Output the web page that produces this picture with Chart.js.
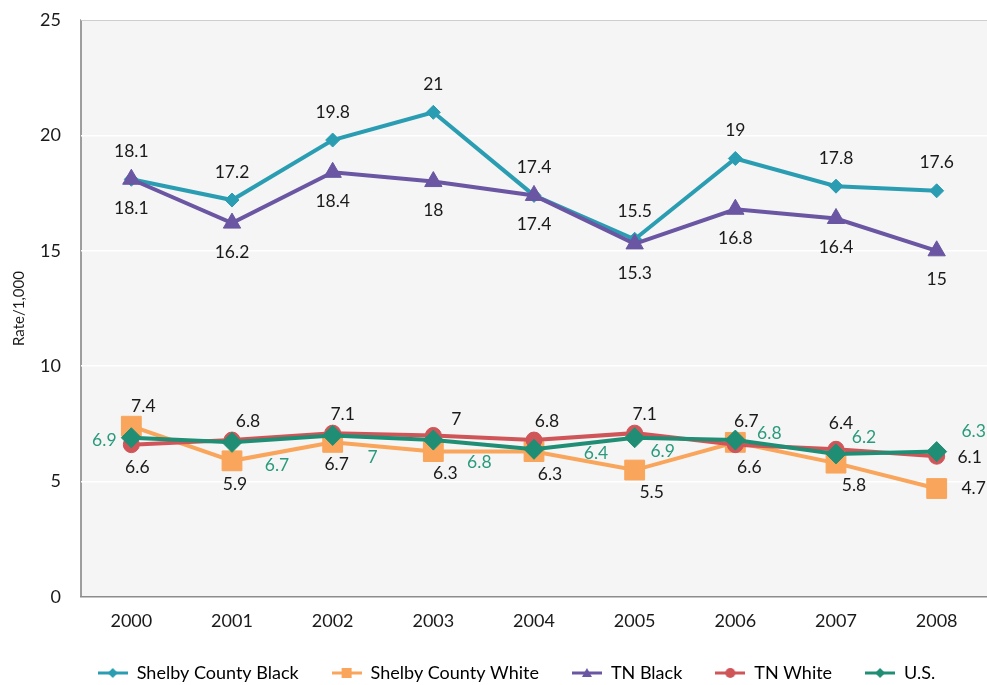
<!DOCTYPE html>
<html>
<head>
<meta charset="utf-8">
<script src="https://cdn.jsdelivr.net/npm/chart.js@4"></script>
<style>
  html, body { margin: 0; padding: 0; background: #ffffff; }
  #wrap { width: 987px; height: 685px; }
</style>
</head>
<body>
<div id="wrap"><canvas id="myChart" width="987" height="685"></canvas></div>
<script>
// data
const years = ["2000", "2001", "2002", "2003", "2004", "2005", "2006", "2007", "2008"];
const shelbyBlack = [18.1, 17.2, 19.8, 21, 17.4, 15.5, 19, 17.8, 17.6];
const shelbyWhite = [7.4, 5.9, 6.7, 6.3, 6.3, 5.5, 6.7, 5.8, 4.7];
const tnBlack = [18.1, 16.2, 18.4, 18, 17.4, 15.3, 16.8, 16.4, 15];
const tnWhite = [6.6, 6.8, 7.1, 7, 6.8, 7.1, 6.6, 6.4, 6.1];
const us = [6.9, 6.7, 7, 6.8, 6.4, 6.9, 6.8, 6.2, 6.3];
const yTicks = [0, 5, 10, 15, 20, 25];

const FONT = "Lato, 'DejaVu Sans', sans-serif";

// where each value label sits relative to its point (dx, dy in px)
const labelOffsets = [
  years.map(() => [0, -28]),
  [[12, -20], [3, 24], [4, 22], [12, 22], [16, 23], [17, 22], [11, -21], [18, 22], [37, 0]],
  years.map(() => [0, 29]),
  [[6, 23], [16, -19], [10, -19], [23, -16], [13, -19], [10, -19], [14, 23], [5, -26], [33, 1]],
  [[-27, 3], [45, 23], [40, 22], [46, 22], [62, 4], [28, 14], [34, -7], [28, -17], [37, -20]],
];
const labelColors = ["#1a1a1a", "#1a1a1a", "#1a1a1a", "#1a1a1a", "#2a9a7c"];

function legendIcon(color, style, size) {
  const c = document.createElement("canvas");
  c.width = 30; c.height = 18;
  const g = c.getContext("2d");
  g.strokeStyle = color; g.lineWidth = 3;
  g.beginPath(); g.moveTo(0, 9); g.lineTo(30, 9); g.stroke();
  g.fillStyle = color;
  g.beginPath();
  if (style === "rectRot") { g.moveTo(15, 9 - size); g.lineTo(15 + size, 9); g.lineTo(15, 9 + size); g.lineTo(15 - size, 9); }
  else if (style === "rect") { g.rect(15 - size, 9 - size, size * 2, size * 2); }
  else if (style === "triangle") { g.moveTo(15, 9 - size); g.lineTo(15 + size, 9 + size * 0.8); g.lineTo(15 - size, 9 + size * 0.8); }
  else { g.arc(15, 9, size, 0, Math.PI * 2); }
  g.closePath(); g.fill();
  return c;
}

const plotBg = {
  id: "plotBg",
  afterLayout(chart) {
    // legend row sits a bit right of centre in the original
    if (chart.legend) { chart.legend.left += 23; chart.legend.right += 23; }
  },
  beforeDraw(chart) {
    const { ctx, chartArea: a } = chart;
    ctx.save();
    ctx.fillStyle = "#f4f5f4";
    ctx.fillRect(a.left, a.top, a.right - a.left, a.bottom - a.top);
    ctx.strokeStyle = "#7f7f7f";
    ctx.lineWidth = 1.5;
    ctx.beginPath();
    ctx.moveTo(a.left, a.bottom); ctx.lineTo(a.left, a.top); ctx.lineTo(a.right, a.top);
    ctx.stroke();
    ctx.restore();
  }
};

const valueLabels = {
  id: "valueLabels",
  afterDatasetsDraw(chart) {
    const ctx = chart.ctx;
    ctx.save();
    ctx.font = "17.5px " + FONT;
    ctx.textAlign = "center";
    ctx.textBaseline = "middle";
    chart.data.datasets.forEach((ds, i) => {
      const meta = chart.getDatasetMeta(i);
      meta.data.forEach((pt, j) => {
        const off = labelOffsets[i][j];
        ctx.fillStyle = labelColors[i];
        ctx.fillText(String(ds.data[j]), pt.x + off[0], pt.y + off[1]);
      });
    });
    ctx.restore();
  }
};

const series = [
  { label: "Shelby County Black", data: shelbyBlack, color: "#2b9db3", style: "rectRot", r: 7, order: 5, icon: 5 },
  { label: "Shelby County White", data: shelbyWhite, color: "#f9a55b", style: "rect", r: 14, order: 4, icon: 5 },
  { label: "TN Black", data: tnBlack, color: "#6a56a2", style: "triangle", r: 10, order: 3, icon: 5 },
  { label: "TN White", data: tnWhite, color: "#cf5558", style: "circle", r: 8, order: 2, icon: 5 },
  { label: "U.S.", data: us, color: "#1f8e74", style: "rectRot", r: 10, order: 1, icon: 5 },
];

let ctx = document.getElementById("myChart").getContext("2d");

let myChart = new Chart(ctx, {
  type: "line",
  data: {
    labels: years,
    datasets: series.map((s) => ({
      label: s.label,
      data: s.data,
      borderColor: s.color,
      backgroundColor: s.color,
      borderWidth: 4,
      pointStyle: s.style,
      pointRadius: s.r,
      pointBackgroundColor: s.color,
      pointBorderColor: s.color,
      pointBorderWidth: 1,
      fill: false,
      tension: 0,
      order: s.order,
    })),
  },
  options: {
    responsive: false,
    animation: false,
    layout: { autoPadding: false, padding: { left: 0, right: 0, top: 20, bottom: -7 } },
    plugins: {
      tooltip: { enabled: false },
      legend: {
        position: "bottom",
        labels: {
          color: "#1a1a1a",
          font: { family: FONT, size: 18 },
          usePointStyle: true,
          pointStyleWidth: 30,
          boxHeight: 18,
          padding: 33,
          sort: (a, b) => a.datasetIndex - b.datasetIndex,
          generateLabels(chart) {
            return series.map((s, i) => ({
              text: s.label,
              datasetIndex: i,
              fillStyle: s.color,
              strokeStyle: s.color,
              lineWidth: 0,
              pointStyle: legendIcon(s.color, s.style, s.icon),
              hidden: false,
            }));
          },
        },
      },
    },
    scales: {
      x: {
        offset: true,
        grid: { display: false, drawTicks: false },
        border: { display: true, color: "#8c8c8c", width: 1.5 },
        ticks: { color: "#1a1a1a", font: { family: FONT, size: 18 }, padding: 13, maxRotation: 0 },
        afterFit(scale) {
          const lh = scale.chart.legend ? scale.chart.legend.height : 0;
          scale.height = scale.chart.height - 597 - lh + 7;
          scale.paddingRight = 0;
          scale.paddingLeft = 0;
        },
      },
      y: {
        min: 0,
        max: 25,
        afterBuildTicks(scale) { scale.ticks = yTicks.map((v) => ({ value: v })); },
        grid: { color: "#ffffff", lineWidth: 1.5, drawTicks: false },
        border: { display: false },
        ticks: { color: "#1a1a1a", font: { family: FONT, size: 18 }, padding: 20 },
        title: { display: true, text: "Rate/1,000", color: "#1a1a1a", font: { family: FONT, size: 15 }, padding: { top: 10, bottom: 0 } },
        afterFit(scale) {
          scale.width = 81;
          scale.paddingTop = 0;
          scale.paddingBottom = 0;
        },
      },
    },
  },
  plugins: [plotBg, valueLabels],
});
</script>
</body>
</html>
